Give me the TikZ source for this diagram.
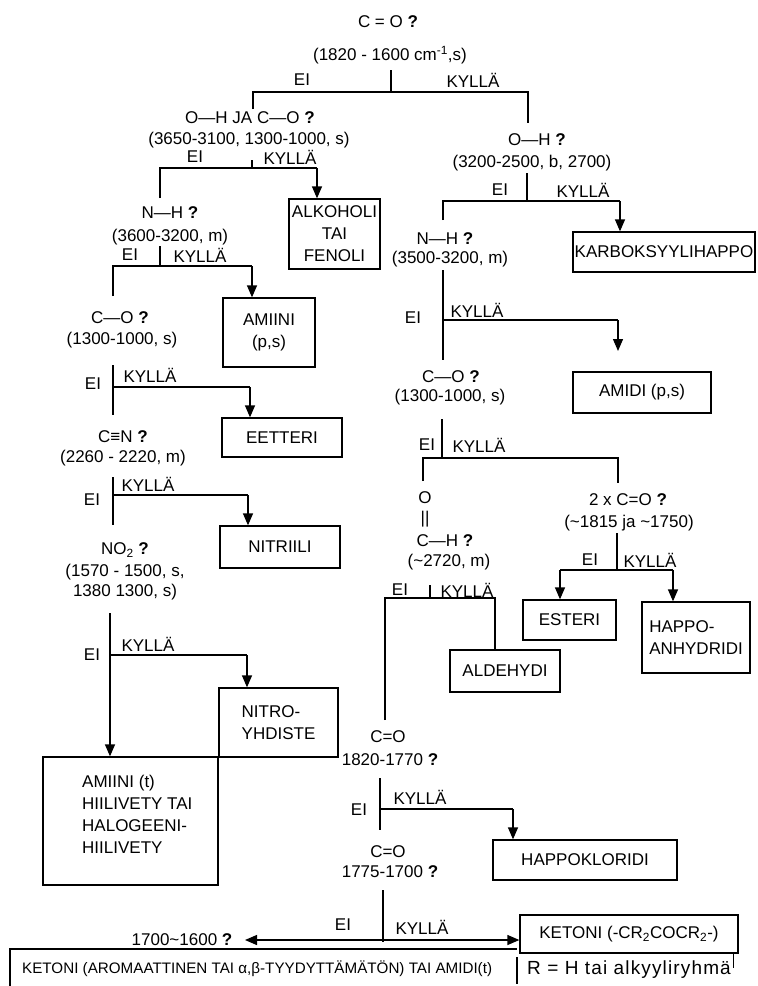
\documentclass[tikz,border=0pt]{standalone}
\usepackage{fontspec}
\setmainfont{Liberation Sans}
\usetikzlibrary{arrows.meta}
\begin{document}
\begin{tikzpicture}[x=1pt,y=-1pt,
  every node/.style={font=\fontsize{17}{22}\selectfont, inner sep=0pt},
  ln/.style={line width=1.3pt},
  arr/.style={line width=1.3pt, -{Triangle[length=12pt,width=10pt]}},
  box/.style={draw, line width=1.3pt, align=center},
  q/.style={align=center},
  lbl/.style={align=center}
]
\useasboundingbox (0,0) rectangle (758,986);

% ---------- question nodes ----------
\node[q] (q1a) at (388,22) {C = O \textbf{?}};
\node[q] (q1b) at (390,55) {(1820 - 1600 cm\textsuperscript{-1},s)};
\node[q] (q2a) at (250,118) {O—H JA\hspace{5pt}C—O \textbf{?}};
\node[q] (q2b) at (249,140) {(3650-3100, 1300-1000, s)};
\node[q] (q3a) at (537,140) {O—H \textbf{?}};
\node[q] (q3b) at (532,163) {(3200-2500, b, 2700)};
\node[q] (q4a) at (170,213) {N—H \textbf{?}};
\node[q] (q4b) at (170,237) {(3600-3200, m)};
\node[q] (q5a) at (445,239) {N—H \textbf{?}};
\node[q] (q5b) at (450,259) {(3500-3200, m)};
\node[q] (q6a) at (120,318) {C—O \textbf{?}};
\node[q] (q6b) at (122,340) {(1300-1000, s)};
\node[q] (q7a) at (451,377) {C—O \textbf{?}};
\node[q] (q7b) at (450,397) {(1300-1000, s)};
\node[q] (q8a) at (123,437) {C≡N \textbf{?}};
\node[q] (q8b) at (123,458) {(2260 - 2220, m)};
\node[q] (q9a) at (125,550) {NO\textsubscript{2} \textbf{?}};
\node[q] (q9b) at (125,572) {(1570 - 1500, s,};
\node[q] (q9c) at (125,592) {1380 1300, s)};
\node[q] (q10a) at (425,498) {O};
\node[q] (q10b) at (425,519) {||};
\node[q] (q10c) at (445,541) {C—H \textbf{?}};
\node[q] (q10d) at (449,562) {(\textasciitilde 2720, m)};
\node[q] (q11a) at (628,500) {2 x C=O \textbf{?}};
\node[q] (q11b) at (629,523) {(\textasciitilde 1815 ja \textasciitilde 1750)};
\node[q] (q12a) at (388,737) {C=O};
\node[q] (q12b) at (390,760) {1820-1770 \textbf{?}};
\node[q] (q13a) at (388,852) {C=O};
\node[q] (q13b) at (390,872) {1775-1700 \textbf{?}};
\node[q] (q14) at (182,940) {1700\textasciitilde 1600 \textbf{?}};

% ---------- result boxes ----------
\node[box, minimum width=91pt, minimum height=70pt] (alk) at (334.5,234) {ALKOHOLI\\TAI\\FENOLI};
\node[box, minimum width=182pt, minimum height=40pt] (karb) at (664,252) {KARBOKSYYLIHAPPO};
\node[box, minimum width=92pt, minimum height=69pt] (amps) at (269,332.5) {AMIINI\\(p,s)};
\node[box, minimum width=120pt, minimum height=39pt] (eet) at (282,437.5) {EETTERI};
\node[box, minimum width=120pt, minimum height=42pt] (nitr) at (280,547) {NITRIILI};
\node[box, minimum width=119pt, minimum height=69pt, align=left] (nitro) at (278.5,722.5) {NITRO-\\YHDISTE};
\node[box, minimum width=175pt, minimum height=128pt] (amt) at (130.5,821) {};
\node[align=left, anchor=north west] (amttxt) at (82,775) {AMIINI (t)\\HIILIVETY TAI\\HALOGEENI-\\HIILIVETY};
\node[box, minimum width=138pt, minimum height=41pt] (amid) at (642,392.5) {AMIDI (p,s)};
\node[box, minimum width=110pt, minimum height=42pt] (ald) at (505,671) {ALDEHYDI};
\node[box, minimum width=93pt, minimum height=40pt] (est) at (569.5,620) {ESTERI};
\node[box, minimum width=108pt, minimum height=71pt, align=left] (anh) at (696,637.5) {HAPPO-\\ANHYDRIDI};
\node[box, minimum width=184pt, minimum height=40pt] (hkl) at (585,860) {HAPPOKLORIDI};
\node[box, minimum width=218pt, minimum height=38pt] (ket) at (629,934) {KETONI (-CR\textsubscript{2}COCR\textsubscript{2}-)};

% bottom line
\node[anchor=west, font=\fontsize{15.2}{19}\selectfont] (bot) at (22,969) {KETONI (AROMAATTINEN TAI α,β-TYYDYTTÄMÄTÖN) TAI AMIDI(t)};
\node[anchor=west, font=\fontsize{19}{23}\selectfont\addfontfeature{LetterSpace=6}] (rleg) at (527,970) {R = H tai alkyyliryhmä};
\coordinate (bx1) at (10,986);
\coordinate (bx2) at (10,949);
\coordinate (bx3) at (517,949);
\draw[ln] (bx1) -- (bx2) -- (bx3);
\coordinate (sep1) at (517,957);
\coordinate (sep2) at (517,984);
\draw[ln] (sep1) -- (sep2);
\coordinate (ktick) at (733,968);
\draw[line width=0.8pt] (ket.south -| ktick) -- (ktick);

% ---------- branch 1 ----------
\coordinate (b1t) at (391,70);
\coordinate (b1c) at (391,92);
\coordinate (b1l) at (253,92);
\coordinate (b1r) at (528,92);
\coordinate (b1le) at (253,109);
\coordinate (b1re) at (528,123);
\draw[ln] (b1t) -- (b1c);
\draw[ln] (b1le) -- (b1l) -- (b1r) -- (b1re);
\node[lbl] (b1ei) at (302,80) {EI};
\node[lbl] (b1ky) at (473,80) {KYLLÄ};

% ---------- branch 2 ----------
\coordinate (b2t) at (252,160);
\coordinate (b2c) at (252,168);
\coordinate (b2l) at (160,168);
\coordinate (b2r) at (317,168);
\coordinate (b2le) at (160,198);
\draw[ln] (b2t) -- (b2c);
\draw[ln] (b2le) -- (b2l) -- (b2r);
\draw[arr] (b2r) -- (b2r |- alk.north);
\node[lbl] (b2ei) at (195,157) {EI};
\node[lbl] (b2ky) at (290,157) {KYLLÄ};

% ---------- branch 3 ----------
\coordinate (b3t) at (527,173);
\coordinate (b3c) at (527,201);
\coordinate (b3l) at (443,201);
\coordinate (b3r) at (620,201);
\coordinate (b3le) at (443,220);
\draw[ln] (b3t) -- (b3c);
\draw[ln] (b3le) -- (b3l) -- (b3r);
\draw[arr] (b3r) -- (b3r |- karb.north);
\node[lbl] (b3ei) at (500,190) {EI};
\node[lbl] (b3ky) at (583,190) {KYLLÄ};

% ---------- branch 4 ----------
\coordinate (b4t) at (160,246);
\coordinate (b4c) at (160,266);
\coordinate (b4l) at (113,266);
\coordinate (b4r) at (252,266);
\coordinate (b4le) at (113,296);
\draw[ln] (b4t) -- (b4c);
\draw[ln] (b4le) -- (b4l) -- (b4r);
\draw[arr] (b4r) -- (b4r |- amps.north);
\node[lbl] (b4ei) at (130,255) {EI};
\node[lbl] (b4ky) at (200,255) {KYLLÄ};

% ---------- branch 5 ----------
\coordinate (b5t) at (443,270);
\coordinate (b5b) at (443,360);
\coordinate (b5c) at (443,320);
\coordinate (b5r) at (618,320);
\coordinate (b5e) at (618,351);
\draw[ln] (b5t) -- (b5b);
\draw[ln] (b5c) -- (b5r);
\draw[arr] (b5r) -- (b5e);
\node[lbl] (b5ei) at (413,318) {EI};
\node[lbl] (b5ky) at (477,310) {KYLLÄ};

% ---------- branch 6 ----------
\coordinate (b6t) at (113,365);
\coordinate (b6b) at (113,415);
\coordinate (b6c) at (113,387);
\coordinate (b6r) at (250,387);
\draw[ln] (b6t) -- (b6b);
\draw[ln] (b6c) -- (b6r);
\draw[arr] (b6r) -- (b6r |- eet.north);
\node[lbl] (b6ei) at (93,384) {EI};
\node[lbl] (b6ky) at (150,375) {KYLLÄ};

% ---------- branch 7 ----------
\coordinate (b7t) at (442,419);
\coordinate (b7c) at (442,458);
\coordinate (b7l) at (423,458);
\coordinate (b7r) at (618,458);
\coordinate (b7le) at (423,481);
\coordinate (b7re) at (618,483);
\draw[ln] (b7t) -- (b7c);
\draw[ln] (b7le) -- (b7l) -- (b7r) -- (b7re);
\node[lbl] (b7ei) at (427,445) {EI};
\node[lbl] (b7ky) at (479,445) {KYLLÄ};

% ---------- branch 8 ----------
\coordinate (b8t) at (113,477);
\coordinate (b8b) at (113,525);
\coordinate (b8c) at (113,495);
\coordinate (b8r) at (248,495);
\draw[ln] (b8t) -- (b8b);
\draw[ln] (b8c) -- (b8r);
\draw[arr] (b8r) -- (b8r |- nitr.north);
\node[lbl] (b8ei) at (92,500) {EI};
\node[lbl] (b8ky) at (148,484) {KYLLÄ};

% ---------- branch 9 ----------
\coordinate (b9t) at (110,613);
\coordinate (b9c) at (110,655);
\coordinate (b9r) at (247,655);
\draw[arr] (b9t) -- (b9t |- amt.north);
\draw[ln] (b9c) -- (b9r);
\draw[arr] (b9r) -- (b9r |- nitro.north);
\node[lbl] (b9ei) at (92,655) {EI};
\node[lbl] (b9ky) at (148,644) {KYLLÄ};

% ---------- branch 10 (aldehyde) ----------
\coordinate (b10t) at (430,585);
\coordinate (b10c) at (430,598);
\coordinate (b10l) at (385,598);
\coordinate (b10r) at (495,598);
\coordinate (b10le) at (385,720);
\draw[ln] (b10t) -- (b10c);
\draw[ln] (b10le) -- (b10l) -- (b10r) -- (b10r |- ald.north);
\node[lbl] (b10ei) at (400,590) {EI};
\node[lbl] (b10ky) at (467,590) {KYLLÄ};

% ---------- branch 11 (2 x C=O) ----------
\coordinate (b11t) at (617,533);
\coordinate (b11c) at (617,570);
\coordinate (b11l) at (560,570);
\coordinate (b11r) at (673,570);
\draw[ln] (b11t) -- (b11c);
\draw[ln] (b11l) -- (b11r);
\draw[arr] (b11l) -- (b11l |- est.north);
\draw[arr] (b11r) -- (b11r |- anh.north);
\node[lbl] (b11ei) at (590,560) {EI};
\node[lbl] (b11ky) at (650,560) {KYLLÄ};

% ---------- branch 12 ----------
\coordinate (b12t) at (380,778);
\coordinate (b12b) at (380,830);
\coordinate (b12c) at (380,809);
\coordinate (b12r) at (513,809);
\draw[ln] (b12t) -- (b12b);
\draw[ln] (b12c) -- (b12r);
\draw[arr] (b12r) -- (b12r |- hkl.north);
\node[lbl] (b12ei) at (359,810) {EI};
\node[lbl] (b12ky) at (420,797) {KYLLÄ};

% ---------- branch 13 ----------
\coordinate (b13t) at (383,890);
\coordinate (b13c) at (383,940);
\coordinate (b13b) at (383,942);
\coordinate (b13le) at (245,940);
\draw[ln] (b13t) -- (b13b);
\draw[arr] (b13c) -- (b13le);
\draw[arr] (b13c) -- (b13c -| ket.west);
\node[lbl] (b13ei) at (343,925) {EI};
\node[lbl] (b13ky) at (422,927) {KYLLÄ};
\end{tikzpicture}
\end{document}
